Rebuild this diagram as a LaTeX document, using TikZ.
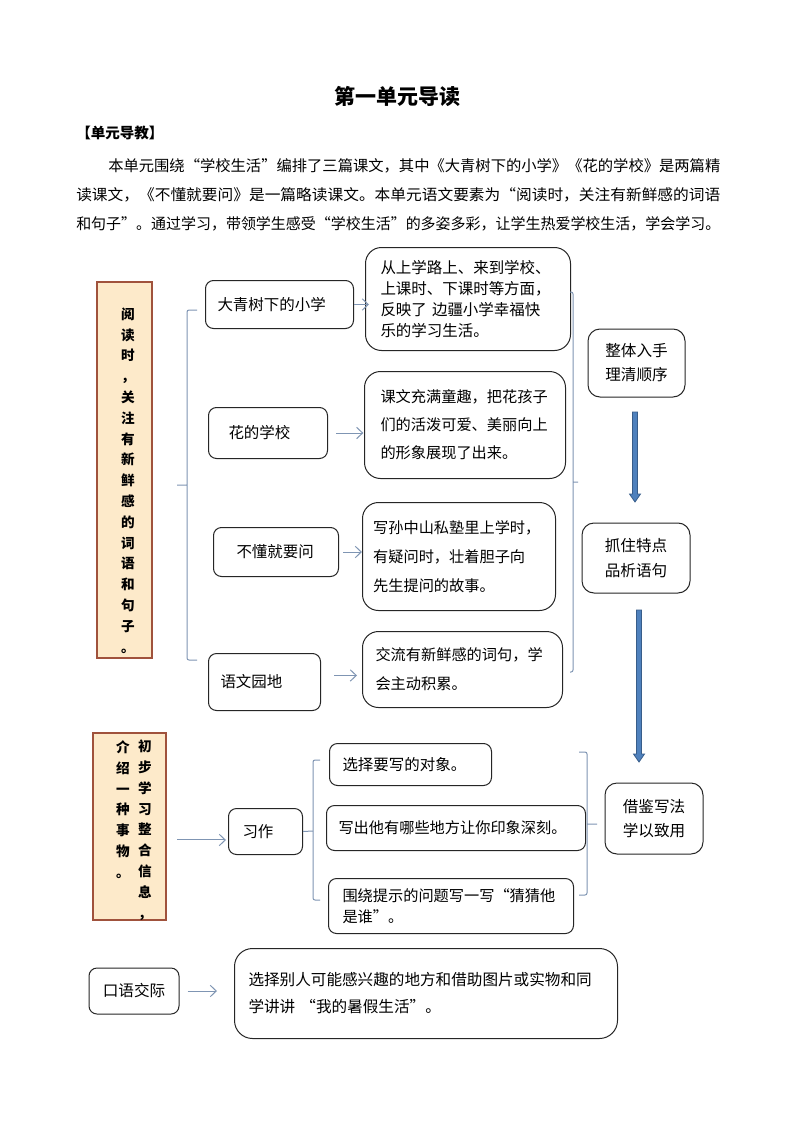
\documentclass[tikz,border=0pt]{standalone}
\usepackage{fontspec}
\usepackage{graphicx}
\newfontfamily\cjk{Noto Sans CJK SC}
\usetikzlibrary{arrows.meta}
\definecolor{boxline}{RGB}{38,38,38}
\definecolor{connc}{RGB}{127,149,179}
\definecolor{goalfill}{RGB}{253,234,202}
\definecolor{goalline}{RGB}{160,82,60}
\definecolor{arrowfill}{RGB}{79,129,189}
\definecolor{arrowline}{RGB}{56,93,138}
\def\pix{0.75pt}

\begin{document}
\begin{tikzpicture}[x=0.75pt, y=-0.75pt,
  lesson/.style={draw=boxline, line width=0.75pt, rounded corners=6pt, anchor=north west, inner ysep=0pt, align=left, font=\cjk\fontsize{11.6}{15.75}\selectfont},
  note/.style={lesson, rounded corners=12pt},
  method/.style={draw=boxline, line width=0.75pt, rounded corners=9pt, align=center, inner sep=0pt, font=\cjk\fontsize{11.7}{18}\selectfont},
  goal/.style={draw=goalline, line width=0.9pt, fill=goalfill, inner sep=0pt},
  vtext/.style={align=center, inner sep=0pt, font=\cjk\bfseries\fontsize{10.2}{15.6}\selectfont},
  intro/.style={anchor=west, inner sep=0pt, font=\cjk\fontsize{11.4}{14}\selectfont},
  conn/.style={draw=connc, line width=0.75pt, -{Straight Barb[length=4.5pt,width=8.5pt]}},
  brace/.style={draw=connc, line width=0.75pt, rounded corners=1.5pt},
  bigarrow/.style={draw=arrowline, fill=arrowfill, line width=0.6pt}]
\useasboundingbox[fill=white] (0,0) rectangle (794,1123);

% title and introduction
\node[font=\cjk\bfseries\fontsize{15.75}{18}\selectfont] (title) at (397,97) {第一单元导读};
\node[anchor=west, inner sep=0pt, font=\cjk\bfseries\fontsize{10.9}{13}\selectfont] (guide) at (76,133) {【单元导教】};
\node[intro] (line1) at (108,166) {\resizebox{459pt}{\height}{本单元围绕“学校生活”编排了三篇课文，其中《大青树下的小学》《花的学校》是两篇精}};
\node[intro] (line2) at (76,195) {\resizebox{483pt}{\height}{读课文，《不懂就要问》是一篇略读课文。本单元语文要素为“阅读时，关注有新鲜感的词语}};
\node[intro] (line3) at (76,224) {\resizebox{483pt}{\height}{和句子”。通过学习，带领学生感受“学校生活”的多姿多彩，让学生热爱学校生活，学会学习。}};

% reading part
\node[goal, minimum width=55*\pix, minimum height=376*\pix] (readgoal) at (124.5,470) {};
\node[vtext] (readtext) at (128,480.5) {阅\\读\\时\\，\\关\\注\\有\\新\\鲜\\感\\的\\词\\语\\和\\句\\子\\。};

\node[lesson, minimum height=48*\pix, inner xsep=9pt, text width=93pt] (dq) at (205,280) {大青树下的小学};
\node[lesson, minimum height=51*\pix, inner xsep=15pt, text width=59.25pt] (hua) at (208,407) {花的学校};
\node[lesson, minimum height=49*\pix, inner xsep=17.25pt, text width=59.25pt] (bd) at (213,527) {不懂就要问};
\node[lesson, minimum height=57*\pix, inner xsep=9pt, text width=66pt] (yw) at (208,653) {语文园地};

\node[note, minimum height=103*\pix, inner xsep=11.25pt, text width=131.25pt] (dqnote) at (365,247) {从上学路上、来到学校、\\上课时、下课时等方面，\\反映了 边疆小学幸福快\\乐的学习生活。};
\node[note, minimum height=107*\pix, inner xsep=12pt, text width=126.75pt, font=\cjk\fontsize{11.4}{21}\selectfont] (huanote) at (364,371) {课文充满童趣，把花孩子\\们的活泼可爱、美丽向上\\的形象展现了出来。};
\node[note, minimum height=108*\pix, inner xsep=8pt, text width=128.75pt, font=\cjk\fontsize{11.4}{21.75}\selectfont] (bdnote) at (362,502) {写孙中山私塾里上学时，\\有疑问时，壮着胆子向\\先生提问的故事。};
\node[note, minimum height=76*\pix, inner xsep=9.75pt, text width=130.5pt, font=\cjk\fontsize{11.4}{21.75}\selectfont] (ywnote) at (362,631) {交流有新鲜感的词句，学\\会主动积累。};

\draw[conn, shorten >=-3pt] (dq.east) -- (dq.east -| dqnote.west);
\draw[conn, shorten <=6pt, shorten >=0.5pt] (hua.east) -- (hua.east -| huanote.west);
\draw[conn, shorten <=3pt] (bd.east) -- (bd.east -| bdnote.west);
\draw[conn, shorten <=9.75pt, shorten >=3.75pt] ([yshift=4.9pt]yw.east) -- ([yshift=4.9pt]yw.east -| ywnote.west);

% methods on the right
\node[method, minimum width=97*\pix, minimum height=68*\pix] (whole) at (636.5,363) {整体入手\\理清顺序};
\node[method, minimum width=108*\pix, minimum height=70*\pix, font=\cjk\fontsize{11.7}{18.75}\selectfont] (feature) at (636,558) {抓住特点\\品析语句};
\node[method, minimum width=98*\pix, minimum height=71*\pix] (apply) at (654,818.5) {借鉴写法\\学以致用};

\foreach \ax/\ya/\yb in {635/412/502, 639/610/762} {
	\draw[bigarrow] ({\ax-2.5},\ya) -- ({\ax+2.5},\ya) -- ({\ax+2.5},{\yb-8}) -- ({\ax+5.5},{\yb-8})
		-- (\ax,\yb) -- ({\ax-5.5},{\yb-8}) -- ({\ax-2.5},{\yb-8}) -- cycle;
	};

% writing part
\node[goal, minimum width=73*\pix, minimum height=187*\pix] (writegoal) at (129.5,826.5) {};
\node[vtext] (writetext) at (145,830) {初\\步\\学\\习\\整\\合\\信\\息\\，};
\node[vtext] (writetext2) at (123,809.5) {介\\绍\\一\\种\\事\\物\\。};

\node[lesson, minimum height=46*\pix, inner xsep=10.5pt, text width=34.5pt] (xz) at (228,808) {习作};
\node[lesson, minimum height=42*\pix, inner xsep=9.75pt, text width=102pt] (pick) at (329,743) {选择要写的对象。};
\node[lesson, minimum height=45*\pix, inner xsep=9pt, text width=176.25pt, font=\cjk\fontsize{11.4}{15.75}\selectfont] (deep) at (326,805) {写出他有哪些地方让你印象深刻。};
\node[lesson, minimum height=55*\pix, inner xsep=10.5pt, text width=162.75pt, font=\cjk\fontsize{11.4}{15.75}\selectfont] (guess) at (328,878) {围绕提示的问题写一写“猜猜他\\是谁”。};

\draw[conn, shorten <=8pt, shorten >=1.5pt] ([yshift=-10.1pt]writegoal.east) -- ([yshift=-10.1pt]writegoal.east -| xz.west);
\draw[brace] (xz.east) -- (313,831);

\foreach \bx/\btop/\bbot/\bend/\bmid/\bdx in {187/310/660/10/485/-10, 573/292/672/-3/482/5, 313/760/900/7/831/0, 587/752/895/-8/824/10} {
	\draw[brace] ({\bx+\bend},\btop) -- (\bx,\btop) -- (\bx,\bbot) -- ({\bx+\bend},\bbot) (\bx,\bmid) -- ({\bx+\bdx},\bmid);
	};

% speaking part
\node[method, minimum width=90*\pix, minimum height=46*\pix, rounded corners=6pt] (ky) at (134,991) {口语交际};
\node[lesson, minimum height=90*\pix, inner xsep=10.5pt, text width=266.25pt, rounded corners=13.5pt, font=\cjk\fontsize{11.7}{20.25}\selectfont] (talk) at (234,948) {选择别人可能感兴趣的地方和借助图片或实物和同\\学讲讲 “我的暑假生活”。};
\draw[conn, shorten <=6pt, shorten >=12.75pt] (ky.east) -- (ky.east -| talk.west);
\end{tikzpicture}
\end{document}
